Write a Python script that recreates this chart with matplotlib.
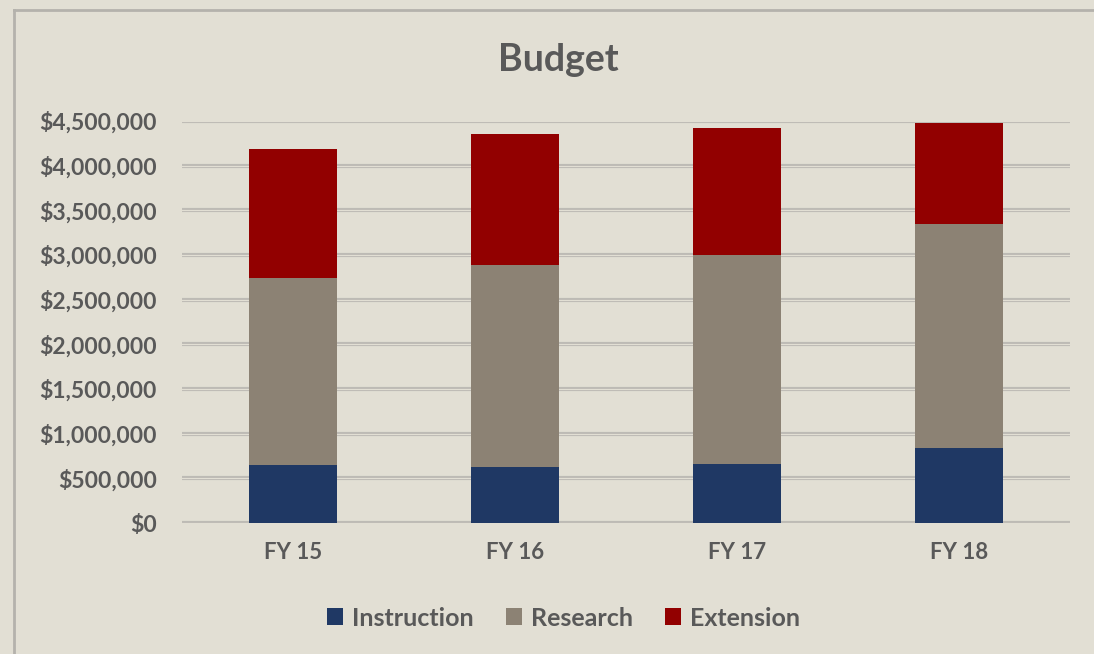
import numpy as np
import matplotlib
matplotlib.use("Agg")
import matplotlib.pyplot as plt
import matplotlib.patheffects as pe
from matplotlib.lines import Line2D
from matplotlib.ticker import FuncFormatter

years = ["FY 15", "FY 16", "FY 17", "FY 18"]
instruction = [650000, 630000, 665000, 840000]
research = [2090000, 2260000, 2335000, 2505000]
extension = [1450000, 1465000, 1420000, 1135000]

bg = "#E2DFD4"
txt = "#595959"
colors = {"Instruction": "#1F3864", "Research": "#8C8274", "Extension": "#920000"}

plt.rcParams["font.family"] = ["Lato", "DejaVu Sans"]
plt.rcParams["font.weight"] = "bold"

fig = plt.figure(figsize=(10.94, 6.54), dpi=100, facecolor=bg)
ax = fig.add_axes([182 / 1094, 1 - 523 / 654, (1070 - 182) / 1094, (523 - 121) / 654])
ax.set_facecolor(bg)

# outer frame of the chart (top and left edges visible in the screenshot)
fig.add_artist(Line2D([14 / 1094, 14 / 1094], [0, 1 - 10 / 654], transform=fig.transFigure,
                      color="#B4B2AC", lw=2))
fig.add_artist(Line2D([14 / 1094, 1], [1 - 10 / 654, 1 - 10 / 654], transform=fig.transFigure,
                      color="#B4B2AC", lw=2))

x = np.arange(len(years))
w = 0.4
inst = np.array(instruction)
res = np.array(research)
ext = np.array(extension)
ax.bar(x, inst, w, color=colors["Instruction"], label="Instruction", zorder=3)
ax.bar(x, res, w, bottom=inst, color=colors["Research"], label="Research", zorder=3)
ax.bar(x, ext, w, bottom=inst + res, color=colors["Extension"], label="Extension", zorder=3)

ax.set_xlim(-0.5, 3.5)
ax.set_ylim(0, 4500000)
ax.set_yticks(np.arange(0, 4500001, 500000))
ax.yaxis.set_major_formatter(FuncFormatter(lambda v, p: "${:,.0f}".format(v)))
ax.set_xticks(x)
ax.set_xticklabels(years)

# double-line gridlines like the original
for yv in ax.get_yticks():
    ax.axhline(yv, color=bg, lw=0.8, zorder=1,
               path_effects=[pe.Stroke(linewidth=3, foreground="#BDBBB5"), pe.Normal()])

for s in ax.spines.values():
    s.set_visible(False)
ax.tick_params(axis="both", length=0, labelsize=16, labelcolor=txt)
ax.tick_params(axis="y", pad=18)
ax.tick_params(axis="x", pad=14)
for lab in ax.get_yticklabels():
    lab.set_fontsize(16.5)

fig.text(0.51, 1 - 60 / 654, "Budget", ha="center", va="center", fontsize=27,
         color=txt, fontweight="bold")

handles, labels = ax.get_legend_handles_labels()
leg = fig.legend(handles, labels, loc="center", bbox_to_anchor=(0.515, 1 - 618 / 654), ncol=3,
                 frameon=False, fontsize=18, handlelength=0.65, handleheight=0.65,
                 handletextpad=0.35, columnspacing=1.3)
for t in leg.get_texts():
    t.set_color(txt)

fig.savefig("out.png", dpi=100, facecolor=bg)
